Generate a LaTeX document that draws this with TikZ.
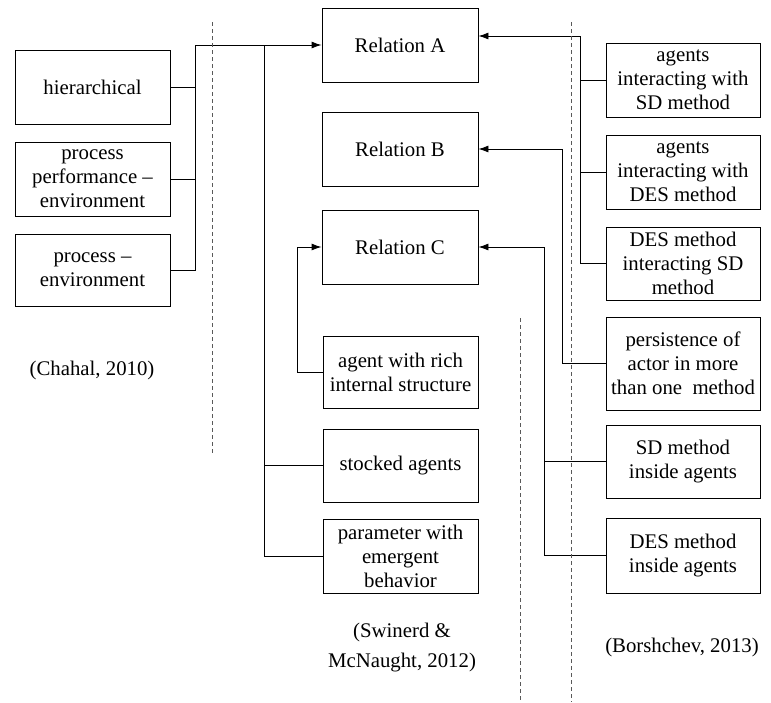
\documentclass[tikz,border=0pt]{standalone}
\usepackage{fontspec}
\setmainfont{Liberation Serif}
\usetikzlibrary{arrows.meta}
\begin{document}
\begin{tikzpicture}[x=1pt,y=-1pt,
  box/.style={draw,line width=0.9pt,minimum width=155pt,minimum height=74pt,
    inner sep=1pt,align=center,font=\fontsize{20.8}{24}\selectfont},
  link/.style={line width=0.9pt},
  arr/.style={link,-{Latex[length=10pt,width=7pt]}},
  divider/.style={line width=0.6pt,gray!70!black,dash pattern=on 4pt off 3pt},
  cite/.style={align=center,font=\fontsize{20.8}{30}\selectfont}]
\useasboundingbox (0,0) rectangle (771,702);

% left column
\node[box] (hier) at (92.5,87) {hierarchical};
\node[box] (ppe) at (92.5,179) {process\\performance --\\environment};
\node[box,minimum height=72pt] (pe) at (92.5,270) {process --\\environment};

% relations
\node[box,minimum width=156pt] (ra) at (400,45) {Relation A};
\node[box,minimum width=156pt] (rb) at (400,149) {Relation B};
\node[box,minimum width=156pt] (rc) at (400,247) {Relation C};

% middle column
\node[box,minimum height=72pt] (rich) at (400.5,372) {agent with rich\\internal structure};
\node[box,minimum height=73pt] (stock) at (400.5,465.5) {stocked agents};
\node[box] (param) at (400.5,556) {parameter with\\emergent\\behavior};

% right column
\node[box,minimum width=154pt] (asd) at (683,80) {agents\\interacting with\\SD method};
\node[box,minimum width=154pt] (ades) at (683,172) {agents\\interacting with\\DES method};
\node[box,minimum width=154pt,minimum height=73pt] (dsd) at (683,263.5) {DES method\\interacting SD\\method};
\node[box,minimum width=154pt,minimum height=93pt] (pers) at (683,363.5) {persistence of\\actor in more\\than one~ method};
\node[box,minimum width=154pt,minimum height=73pt] (sdin) at (683,461.5) {SD method\\inside agents};
\node[box,minimum width=154pt,minimum height=75pt] (desin) at (683,555.5) {DES method\\inside agents};

% citations
\node[cite] (c1) at (92,370) {(Chahal, 2010)};
\node[cite] (c2) at (402,648) {(Swinerd \&\\McNaught, 2012)};
\node[cite] (c3) at (682,647) {(Borshchev, 2013)};

% junction points
\coordinate (lj) at (195,45);
\coordinate (mj) at (264,45);
\coordinate (cj) at (297,247);
\coordinate (rj) at (580,36);
\coordinate (bj) at (562,149);
\coordinate (cj2) at (544,247);

% connectors into Relation A from the left
\draw[arr] (hier.east) -| (lj) -- (ra.west);
\draw[link] (ppe.east) -| (lj);
\draw[link] (pe.east) -| (lj);
\draw[link] (stock.west) -| (mj);
\draw[link] (param.west) -| (mj);

% Relation C from the left
\draw[arr] (rich.west) -| (cj) -- (rc.west);

% connectors from the right
\draw[arr] (asd.west) -| (rj) -- (ra.east |- rj);
\draw[link] (ades.west) -| (rj);
\draw[link] (dsd.west) -| (rj);
\draw[arr] (pers.west) -| (bj) -- (rb.east);
\draw[arr] (desin.west) -| (cj2) -- (rc.east);
\draw[link] (sdin.west) -| (cj2);

% dividers
\coordinate (d1a) at (212,22); \coordinate (d1b) at (212,455);
\coordinate (d2a) at (571,22); \coordinate (d2b) at (571,702);
\coordinate (d3a) at (520,318); \coordinate (d3b) at (520,702);
\draw[divider] (d1a) -- (d1b);
\draw[divider] (d2a) -- (d2b);
\draw[divider] (d3a) -- (d3b);
\end{tikzpicture}
\end{document}
